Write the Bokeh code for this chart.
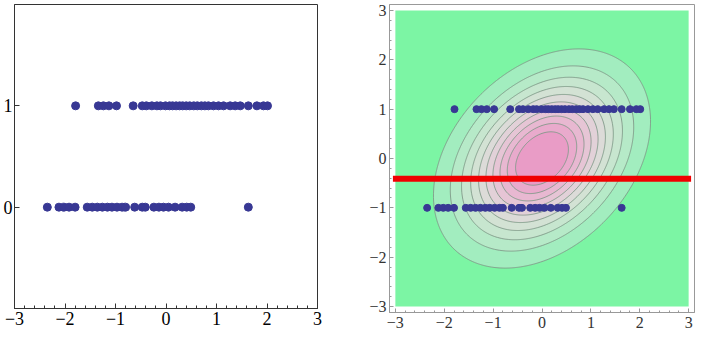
import numpy as np
from bokeh.plotting import figure
from bokeh.layouts import row
from bokeh.models import Range1d, FixedTicker
from bokeh.embed import file_html
from bokeh.resources import INLINE

# ---- data ----
class1_x = [-1.79, -1.34, -1.24, -1.13, -0.98, -0.65, -0.47, -0.39, -0.28, -0.18,
            -0.11, -0.01, 0.07, 0.13, 0.20, 0.27, 0.33, 0.40, 0.47, 0.55, 0.62,
            0.70, 0.77, 0.84, 0.94, 1.04, 1.14, 1.27, 1.37, 1.47, 1.63, 1.80,
            1.93, 2.01]
class0_x = [-2.35, -2.12, -2.02, -1.92, -1.80, -1.56, -1.46, -1.36, -1.26, -1.16,
            -1.07, -0.97, -0.87, -0.80, -0.62, -0.47, -0.41, -0.24, -0.14, -0.05,
            0.05, 0.18, 0.32, 0.41, 0.49, 1.63]
left_label_1, left_label_0 = 1, 0
right_label_1, right_label_0 = 1, -1

x_ticks = [-3, -2, -1, 0, 1, 2, 3]
left_y_ticks = [0, 1]
right_y_ticks = [-3, -2, -1, 0, 1, 2, 3]

# Gaussian density surface (contour plot on the right)
dens_mean = (0.0, 0.0)
dens_sigma = (1.0, 1.0)
dens_rho = 0.34
dens_levels = [0.085, 0.172, 0.258, 0.345, 0.431, 0.518, 0.604, 0.691, 0.777, 0.864]
plot_domain = (-3.0, 3.0)

boundary_x = [-3.05, 3.05]
boundary_y = -0.41

band_colors = ["#A2EDBF", "#B6EAC8", "#C7E6CF", "#D3E2D4", "#DCDBD8",
               "#E2D1D8", "#E6C5D5", "#E8B8D1", "#E9AACC", "#E99CC6"]
bg_green = "#7CF5A4"
dot_color = "#383894"

minus = "\u2212"
def lbl(v):
    return (minus + str(abs(v))) if v < 0 else str(v)

FONT = "Liberation Serif"


def style_axis(ax, color, label_color, size, tick_in, minor_in, standoff):
    ax.axis_line_color = color
    ax.major_tick_line_color = color
    ax.minor_tick_line_color = color
    ax.major_tick_in = tick_in
    ax.major_tick_out = 0
    ax.minor_tick_in = minor_in
    ax.minor_tick_out = 0
    ax.major_label_text_font = FONT
    ax.major_label_text_font_size = size
    ax.major_label_text_color = label_color
    ax.major_label_standoff = standoff


# ---------------- left plot ----------------
p1 = figure(frame_width=303, frame_height=304,
            x_range=Range1d(-3, 3), y_range=Range1d(-1, 2),
            output_backend="svg", toolbar_location=None,
            min_border_left=11, min_border_right=18, min_border_top=0,
            min_border_bottom=28)
p1.grid.visible = False
p1.outline_line_color = "#333333"
p1.outline_line_width = 1
p1.background_fill_color = "white"

p1.xaxis[0].ticker = FixedTicker(ticks=x_ticks,
                                 minor_ticks=[round(-3 + 0.2 * i, 2) for i in range(31)])
p1.xaxis[0].major_label_overrides = {v: lbl(v) for v in x_ticks}
p1.yaxis[0].ticker = FixedTicker(ticks=left_y_ticks, minor_ticks=[])
p1.yaxis[0].major_label_overrides = {v: lbl(v) for v in left_y_ticks}
style_axis(p1.xaxis[0], "#333333", "black", "18px", 5, 3, 3)
style_axis(p1.yaxis[0], "#333333", "black", "18px", 5, 3, 2)

p1.scatter(class1_x, [left_label_1] * len(class1_x), size=8,
           fill_color=dot_color, line_color=dot_color)
p1.scatter(class0_x, [left_label_0] * len(class0_x), size=8,
           fill_color=dot_color, line_color=dot_color)

# ---------------- right plot ----------------
p2 = figure(frame_width=305, frame_height=308,
            x_range=Range1d(-3.12, 3.12), y_range=Range1d(-3.12, 3.12),
            output_backend="svg", toolbar_location=None,
            min_border_left=54, min_border_right=2, min_border_top=4,
            min_border_bottom=28)
p2.grid.visible = False
p2.outline_line_color = "#999999"
p2.background_fill_color = "white"

p2.xaxis[0].ticker = FixedTicker(ticks=x_ticks,
                                 minor_ticks=[round(-3 + 0.2 * i, 2) for i in range(31)])
p2.xaxis[0].major_label_overrides = {v: lbl(v) for v in x_ticks}
p2.yaxis[0].ticker = FixedTicker(ticks=right_y_ticks,
                                 minor_ticks=[round(-3 + 0.2 * i, 2) for i in range(31)])
p2.yaxis[0].major_label_overrides = {v: lbl(v) for v in right_y_ticks}
style_axis(p2.xaxis[0], "#999999", "#333333", "16px", 4, 2, 4)
style_axis(p2.yaxis[0], "#999999", "#333333", "16px", 4, 2, 3)

# green background of the contour plot domain
p2.quad(left=[plot_domain[0]], right=[plot_domain[1]],
        bottom=[plot_domain[0]], top=[plot_domain[1]],
        fill_color=bg_green, line_color=None)

gx = np.linspace(plot_domain[0], plot_domain[1], 301)
gy = np.linspace(plot_domain[0], plot_domain[1], 301)
X, Y = np.meshgrid(gx, gy)
u = (X - dens_mean[0]) / dens_sigma[0]
v = (Y - dens_mean[1]) / dens_sigma[1]
Q = (u * u - 2 * dens_rho * u * v + v * v) / (1 - dens_rho ** 2)
Z = np.exp(-Q / 2)
levels = dens_levels + [1.01]
p2.contour(x=gx, y=gy, z=Z, levels=levels, fill_color=band_colors,
           line_color="#7f8f85", line_alpha=0.8, line_width=1)

p2.line(boundary_x, [boundary_y, boundary_y], line_width=6, line_color="#F00000")

p2.scatter(class1_x, [right_label_1] * len(class1_x), size=7,
           fill_color=dot_color, line_color=dot_color)
p2.scatter(class0_x, [right_label_0] * len(class0_x), size=7,
           fill_color=dot_color, line_color=dot_color)

layout = row(p1, p2)
open("out.html", "w").write(file_html(layout, INLINE))
